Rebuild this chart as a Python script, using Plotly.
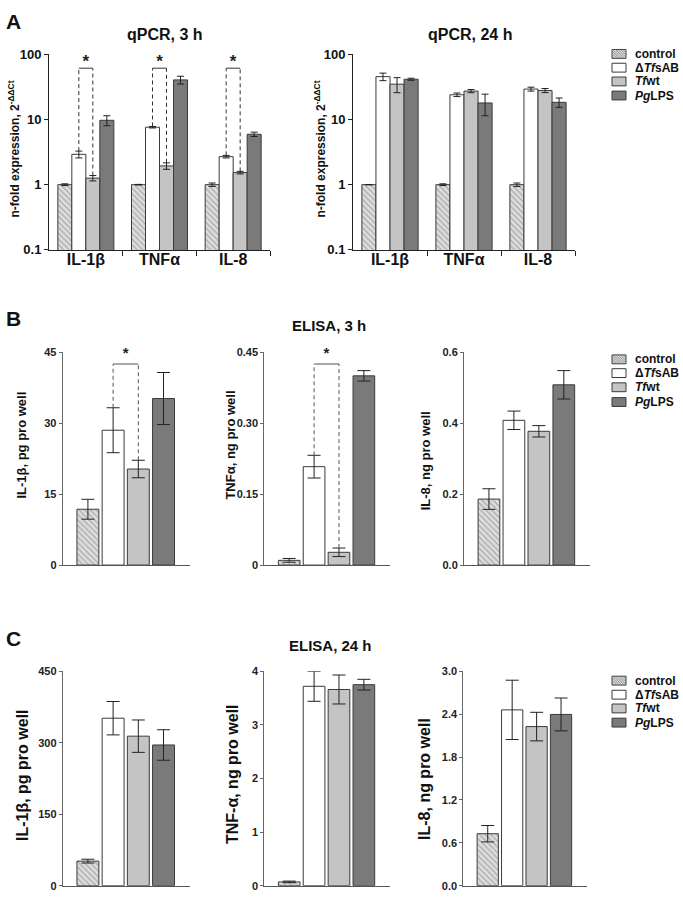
import plotly.graph_objects as go

# ---------------- data ----------------
genes = ["IL-1β", "TNFα", "IL-8"]
group_names = ["control", "Δ<i>Tf</i>sAB", "<i>Tf</i>wt", "<i>Pg</i>LPS"]

# qPCR 3 h (n-fold expression)
qpcr3_control = [1.0, 1.0, 1.0]
qpcr3_control_err = [0.03, 0.01, 0.06]
qpcr3_dtfsab = [2.92, 7.6, 2.69]
qpcr3_dtfsab_err = [0.35, 0.2, 0.12]
qpcr3_tfwt = [1.26, 1.94, 1.53]
qpcr3_tfwt_err = [0.12, 0.22, 0.07]
qpcr3_pglps = [9.7, 40.4, 5.93]
qpcr3_pglps_err = [1.7, 5.5, 0.45]

# qPCR 24 h
qpcr24_control = [1.0, 1.0, 1.0]
qpcr24_control_err = [0.0, 0.03, 0.06]
qpcr24_dtfsab = [45.3, 23.9, 29.2]
qpcr24_dtfsab_err = [6.0, 1.5, 2.0]
qpcr24_tfwt = [34.7, 27.2, 27.8]
qpcr24_tfwt_err = [9.0, 1.5, 2.0]
qpcr24_pglps = [41.3, 17.9, 18.3]
qpcr24_pglps_err = [1.5, 6.5, 3.0]

# ELISA 3 h (order: control, dTfsAB, Tfwt, PgLPS)
il1b_3h = [11.8, 28.5, 20.3, 35.2]
il1b_3h_err = [2.1, 4.75, 1.85, 5.5]
tnfa_3h = [0.010, 0.208, 0.027, 0.400]
tnfa_3h_err = [0.004, 0.024, 0.009, 0.011]
il8_3h = [0.186, 0.408, 0.377, 0.508]
il8_3h_err = [0.029, 0.026, 0.016, 0.040]

# ELISA 24 h
il1b_24h = [51.5, 351.5, 313.8, 295.3]
il1b_24h_err = [4.0, 35.0, 34.0, 32.0]
tnfa_24h = [0.07, 3.72, 3.66, 3.75]
tnfa_24h_err = [0.015, 0.28, 0.27, 0.10]
il8_24h = [0.727, 2.46, 2.226, 2.396]
il8_24h_err = [0.115, 0.415, 0.20, 0.23]

# tick labels
qpcr_ticks = [0.1, 1, 10, 100]
qpcr_ticktext = ["0.1", "1", "10", "100"]
il1b_3h_ticks = [0, 15, 30, 45]
il1b_3h_ticktext = ["0", "15", "30", "45"]
tnfa_3h_ticks = [0, 0.15, 0.30, 0.45]
tnfa_3h_ticktext = ["0", "0.15", "0.30", "0.45"]
il8_3h_ticks = [0, 0.2, 0.4, 0.6]
il8_3h_ticktext = ["0.0", "0.2", "0.4", "0.6"]
il1b_24h_ticks = [0, 150, 300, 450]
il1b_24h_ticktext = ["0", "150", "300", "450"]
tnfa_24h_ticks = [0, 1, 2, 3, 4]
tnfa_24h_ticktext = ["0", "1", "2", "3", "4"]
il8_24h_ticks = [0, 0.6, 1.2, 1.8, 2.4, 3.0]
il8_24h_ticktext = ["0.0", "0.6", "1.2", "1.8", "2.4", "3.0"]

# significance brackets (level of bracket, level of star)
qpcr3_sig_level = 61
qpcr3_star_level = 74
il1b_3h_sig_level = 42.5
il1b_3h_star_level = 44.6
tnfa_3h_sig_level = 0.425
tnfa_3h_star_level = 0.446

# ---------------- styling ----------------
W, H = 683, 903
FONT = "Liberation Sans, Arial, sans-serif"
fill_colors = ["#dcdcdc", "#ffffff", "#c4c4c4", "#7a7a7a"]
LINE = "#3a3a3a"
HATCH_FG = "#7c7c7c"
HATCH_BG = "#dedede"


def xd(a, b):
    return [a / W, b / W]


def yd(top, bottom):
    return [1 - bottom / H, 1 - top / H]


def marker_for(i):
    m = dict(color=fill_colors[i], line=dict(color=LINE, width=1))
    if i == 0:
        m["pattern"] = dict(shape="\\", fgcolor=HATCH_FG, bgcolor=HATCH_BG,
                            size=4, solidity=0.35)
    return m


fig = go.Figure()

# ---------------- Panel A (qPCR, log scale) ----------------
bw = 0.19
qpcr3_sets = [(qpcr3_control, qpcr3_control_err), (qpcr3_dtfsab, qpcr3_dtfsab_err),
              (qpcr3_tfwt, qpcr3_tfwt_err), (qpcr3_pglps, qpcr3_pglps_err)]
qpcr24_sets = [(qpcr24_control, qpcr24_control_err), (qpcr24_dtfsab, qpcr24_dtfsab_err),
               (qpcr24_tfwt, qpcr24_tfwt_err), (qpcr24_pglps, qpcr24_pglps_err)]
gene_pos = list(range(len(genes)))

for ax_i, sets in [(1, qpcr3_sets), (2, qpcr24_sets)]:
    for i, (vals, errs) in enumerate(sets):
        fig.add_trace(go.Bar(
            x=gene_pos, y=vals, width=bw, offset=-2 * bw + i * bw,
            marker=marker_for(i), name=group_names[i],
            error_y=dict(type="data", array=errs, color="#222", thickness=1, width=3.5),
            xaxis="x" if ax_i == 1 else "x2", yaxis="y" if ax_i == 1 else "y2",
            showlegend=False, hoverinfo="skip"))

# brackets panel A
vx, vy, hx, hy, sx, sy = [], [], [], [], [], []
for g in gene_pos:
    xl = g - 0.5 * bw
    xr = g + 0.5 * bw
    vx += [xl, xl, None, xr, xr, None]
    vy += [qpcr3_dtfsab[g] + qpcr3_dtfsab_err[g], qpcr3_sig_level, None,
           qpcr3_tfwt[g] + qpcr3_tfwt_err[g], qpcr3_sig_level, None]
    hx += [xl, xr, None]
    hy += [qpcr3_sig_level, qpcr3_sig_level, None]
    sx.append(g)
    sy.append(qpcr3_star_level)
fig.add_trace(go.Scatter(x=vx, y=vy, mode="lines", line=dict(color="#333", width=1, dash="4px,3px"),
                         xaxis="x", yaxis="y", showlegend=False, hoverinfo="skip", cliponaxis=False))
fig.add_trace(go.Scatter(x=hx, y=hy, mode="lines", line=dict(color="#333", width=1),
                         xaxis="x", yaxis="y", showlegend=False, hoverinfo="skip", cliponaxis=False))
fig.add_trace(go.Scatter(x=sx, y=sy, mode="text", text=["*"] * len(sx),
                         textfont=dict(size=17, color="#222", family=FONT),
                         xaxis="x", yaxis="y", showlegend=False, hoverinfo="skip", cliponaxis=False))

# ---------------- Panels B & C (ELISA) ----------------
pos = [0, 1, 2, 3]
elisa = [
    (3, il1b_3h, il1b_3h_err),
    (4, tnfa_3h, tnfa_3h_err),
    (5, il8_3h, il8_3h_err),
    (6, il1b_24h, il1b_24h_err),
    (7, tnfa_24h, tnfa_24h_err),
    (8, il8_24h, il8_24h_err),
]
for ax_i, vals, errs in elisa:
    for i in range(4):
        fig.add_trace(go.Bar(
            x=[pos[i]], y=[vals[i]], width=0.87,
            marker=marker_for(i), name=group_names[i],
            error_y=dict(type="data", array=[errs[i]], color="#222", thickness=1, width=6.5),
            xaxis=f"x{ax_i}", yaxis=f"y{ax_i}", showlegend=False, hoverinfo="skip"))

# brackets panel B
for ax_i, vals, errs, lvl, star in [(3, il1b_3h, il1b_3h_err, il1b_3h_sig_level, il1b_3h_star_level),
                                    (4, tnfa_3h, tnfa_3h_err, tnfa_3h_sig_level, tnfa_3h_star_level)]:
    xl, xr = pos[1], pos[2]
    fig.add_trace(go.Scatter(
        x=[xl, xl, None, xr, xr], y=[vals[1] + errs[1], lvl, None, vals[2] + errs[2], lvl],
        mode="lines", line=dict(color="#555", width=1, dash="4px,3px"),
        xaxis=f"x{ax_i}", yaxis=f"y{ax_i}", showlegend=False, hoverinfo="skip", cliponaxis=False))
    fig.add_trace(go.Scatter(
        x=[xl, xr], y=[lvl, lvl], mode="lines", line=dict(color="#555", width=1),
        xaxis=f"x{ax_i}", yaxis=f"y{ax_i}", showlegend=False, hoverinfo="skip", cliponaxis=False))
    fig.add_trace(go.Scatter(
        x=[(xl + xr) / 2], y=[star], mode="text", text=["*"],
        textfont=dict(size=15, color="#222", family=FONT),
        xaxis=f"x{ax_i}", yaxis=f"y{ax_i}", showlegend=False, hoverinfo="skip", cliponaxis=False))

# ---------------- axes ----------------
ax_common = dict(showline=True, linewidth=1, showgrid=False, zeroline=False, fixedrange=True)
layout_axes = {}

A_y = yd(48, 247)
for name_x, name_y, dom in [("xaxis", "yaxis", xd(49, 270)), ("xaxis2", "yaxis2", xd(353, 575))]:
    layout_axes[name_x] = dict(
        ax_common, domain=dom, range=[-0.5, 2.5], linecolor="#222",
        tickvals=gene_pos, ticktext=genes, ticks="", ticklen=0, ticklabelstandoff=-5,
        tickfont=dict(size=16, color="#111", family=FONT, weight="bold"),
        minor=dict(tickvals=[0.5, 1.5, 2.5], ticks="outside", ticklen=5, tickcolor="#222", tickwidth=1),
        anchor=name_y.replace("axis", ""))
    layout_axes[name_y] = dict(
        ax_common, domain=A_y, type="log", range=[-1, 2], linecolor="#222",
        tickvals=qpcr_ticks, ticktext=qpcr_ticktext, ticks="outside", ticklen=4, tickcolor="#222",
        tickfont=dict(size=13, color="#111", family=FONT, weight="bold"),
        anchor=name_x.replace("axis", ""))

B_y = yd(351, 567.5)
C_y = yd(675.5, 893.5)
elisa_axes = [
    (3, xd(62.7, 190), B_y, il1b_3h_ticks, il1b_3h_ticktext),
    (4, xd(264.3, 390), B_y, tnfa_3h_ticks, tnfa_3h_ticktext),
    (5, xd(464, 590), B_y, il8_3h_ticks, il8_3h_ticktext),
    (6, xd(62.7, 190), C_y, il1b_24h_ticks, il1b_24h_ticktext),
    (7, xd(264.3, 390), C_y, tnfa_24h_ticks, tnfa_24h_ticktext),
    (8, xd(463.3, 586.7), C_y, il8_24h_ticks, il8_24h_ticktext),
]
for k, dx, dy, tv, tt in elisa_axes:
    layout_axes[f"xaxis{k}"] = dict(ax_common, domain=dx, range=[-1.0, 4.05], linecolor="#555",
                                    showticklabels=False, ticks="", anchor=f"y{k}")
    layout_axes[f"yaxis{k}"] = dict(ax_common, domain=dy, range=[0, tv[-1]], linecolor="#666",
                                    tickvals=tv, ticktext=tt, ticks="outside", ticklen=3, tickcolor="#666",
                                    tickfont=dict(size=11, color="#222", family=FONT, weight="bold"),
                                    anchor=f"x{k}")

# ---------------- annotations ----------------
def ann(text, x, y, size, angle=0, xanchor="center"):
    return dict(text=text, x=x / W, y=1 - y / H, xref="paper", yref="paper", showarrow=False,
                textangle=angle, xanchor=xanchor, yanchor="middle",
                font=dict(size=size, color="#111", family=FONT, weight="bold"))


annotations = [
    ann("A", 13, 15, 21), ann("B", 13, 317, 21), ann("C", 13, 642, 21),
    ann("qPCR, 3 h", 165, 28, 16), ann("qPCR, 24 h", 470, 28, 16),
    ann("ELISA, 3 h", 329, 324, 15), ann("ELISA, 24 h", 330, 649, 15),
    ann("n-fold expression, 2<sup>-ΔΔCt</sup>", 14, 145, 12, -90),
    ann("n-fold expression, 2<sup>-ΔΔCt</sup>", 320, 145, 12, -90),
    ann("IL-1β, pg pro well", 22, 446, 13, -90),
    ann("TNFα, ng pro well", 231, 446, 13, -90),
    ann("IL-8, ng pro well", 425, 462, 13, -90),
    ann("IL-1β, pg pro well", 22, 781, 16, -90),
    ann("TNF-α, ng pro well", 232, 780, 16, -90),
    ann("IL-8, ng pro well", 425, 785, 16, -90),
]

# ---------------- legends (drawn as boxes + text) ----------------
legend_rows_A = [47.7, 61.7, 75.7, 90.0]
legend_rows_B = [358.3, 372.3, 386.7, 401.7]
legend_rows_C = [685.0, 699.3, 713.3, 727.7]
SW_X0, SW_X1, SW_H, TXT_X = 612, 626, 9, 633

shapes = []


def px_x(v):
    return v / W


def px_y(v):
    return 1 - v / H


for rows in (legend_rows_A, legend_rows_B, legend_rows_C):
    for i, yc in enumerate(rows):
        y0, y1 = yc - SW_H / 2, yc + SW_H / 2
        shapes.append(dict(type="rect", xref="paper", yref="paper",
                           x0=px_x(SW_X0), x1=px_x(SW_X1), y0=px_y(y1), y1=px_y(y0),
                           fillcolor=HATCH_BG if i == 0 else fill_colors[i],
                           line=dict(color=LINE, width=1), layer="above"))
        if i == 0:
            segs = []
            t = -SW_H
            while t < SW_X1 - SW_X0:
                xs, ys = SW_X0 + t, y0
                xe, ye = SW_X0 + t + SW_H, y1
                if xs < SW_X0:
                    ys = y0 + (SW_X0 - xs)
                    xs = SW_X0
                if xe > SW_X1:
                    ye = y1 - (xe - SW_X1)
                    xe = SW_X1
                if xe > xs:
                    segs.append(f"M{px_x(xs):.5f},{px_y(ys):.5f}L{px_x(xe):.5f},{px_y(ye):.5f}")
                t += 2.5
            shapes.append(dict(type="path", xref="paper", yref="paper", path="".join(segs),
                               line=dict(color=HATCH_FG, width=0.8), layer="above"))
        annotations.append(ann(group_names[i], TXT_X, yc, 12, xanchor="left"))

fig.update_layout(
    width=W, height=H, margin=dict(l=0, r=0, t=0, b=0),
    paper_bgcolor="white", plot_bgcolor="white",
    barmode="overlay", showlegend=False,
    font=dict(family=FONT, color="#111", weight="bold"),
    annotations=annotations, shapes=shapes,
    **layout_axes,
)

fig.write_html("out.html", config={"displayModeBar": False},
               post_script="document.body.style.margin='0';document.body.style.padding='0';")
